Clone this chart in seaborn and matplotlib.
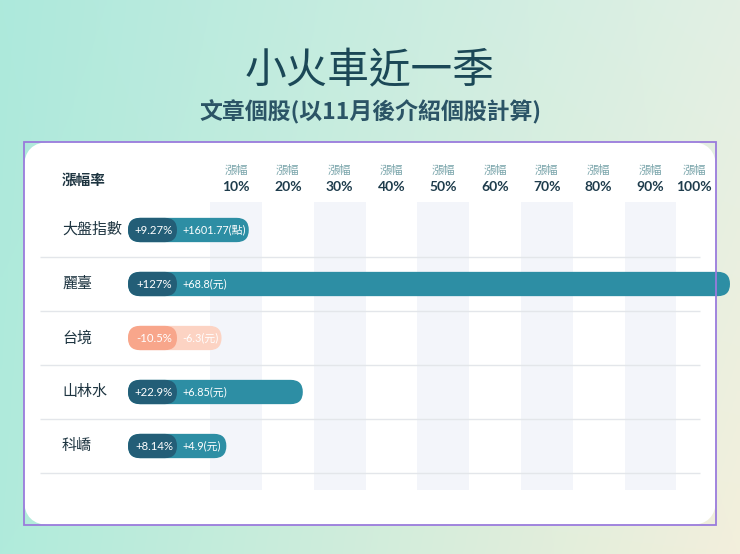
import numpy as np
import matplotlib
matplotlib.use("Agg")
import matplotlib.pyplot as plt
import seaborn as sns
from matplotlib.patches import FancyBboxPatch, Rectangle
from matplotlib.colors import to_rgb

# ---------------- data ----------------
title = "小火車近一季"
subtitle = "文章個股(以11月後介紹個股計算)"
corner_label = "漲幅率"
header_word = "漲幅"
names = ["大盤指數", "麗臺", "台境", "山林水", "科嶠"]
pct_change = [9.27, 127, -10.5, 22.9, 8.14]
pct_labels = ["+9.27%", "+127%", "-10.5%", "+22.9%", "+8.14%"]
value_labels = ["+1601.77(點)", "+68.8(元)", "-6.3(元)", "+6.85(元)", "+4.9(元)"]
tick_values = [10, 20, 30, 40, 50, 60, 70, 80, 90, 100]
tick_labels = ["10%", "20%", "30%", "40%", "50%", "60%", "70%", "80%", "90%", "100%"]

# ---------------- style ----------------
sns.set_theme(style="white")
CJK = ["Noto Sans CJK TC", "DejaVu Sans"]
NUM = ["Lato", "Noto Sans CJK TC", "DejaVu Sans"]
plt.rcParams["font.family"] = CJK

W, H = 740, 554
fig = plt.figure(figsize=(W / 100, H / 100), dpi=100)

# background gradient
bg = fig.add_axes([0, 0, 1, 1])
bg.set_xlim(0, W)
bg.set_ylim(H, 0)
bg.axis("off")
tl, tr = np.array(to_rgb("#ade9dc")), np.array(to_rgb("#e2f0e4"))
bl, br = np.array(to_rgb("#b0ebdb")), np.array(to_rgb("#f3efdc"))
yy, xx = np.mgrid[0:1:200j, 0:1:200j]
xx, yy = xx[..., None], yy[..., None]
img = (1 - yy) * ((1 - xx) * tl + xx * tr) + yy * ((1 - xx) * bl + xx * br)
bg.imshow(img, extent=(0, W, H, 0), aspect="auto", zorder=0)

# card
CL, CT, CR, CB = 24, 142, 716, 525
bg.add_patch(FancyBboxPatch((CL, CT), CR - CL, CB - CT,
                            boxstyle="round,pad=0,rounding_size=26",
                            fc="white", ec="none", zorder=1))
fig.add_artist(Rectangle((CL / W, 1 - CB / H), (CR - CL) / W, (CB - CT) / H,
                         transform=fig.transFigure, fill=False,
                         ec="#9a7bdc", lw=1.3, zorder=10))

fig.text(0.5, 1 - 72 / H, title, ha="center", va="center",
         fontsize=30, color="#1b4857")
fig.text(0.5, 1 - 112 / H, subtitle, ha="center", va="center",
         fontsize=16.5, fontweight="bold", color="#2b5466")

# ---------------- main axes ----------------
X0, KX = 184.2, 5.18   # pixel of 0% and pixels per 1%
Y0, KY = 230.0, 54.0   # pixel of first row and pixels per row


def dx(p):
    return (p - X0) / KX


def dy(p):
    return (p - Y0) / KY


ax = fig.add_axes([CL / W, 1 - CB / H, (CR - CL) / W, (CB - CT) / H])
ax.patch.set_alpha(0)


def set_limits():
    ax.set_xlim(dx(CL), dx(CR))
    ax.set_ylim(dy(CB), dy(CT))
    ax.axis("off")


set_limits()

# stripes
for v in tick_values[::2]:
    ax.add_patch(Rectangle((v - 5, dy(202)), 10, dy(490) - dy(202),
                           fc="#f3f5fa", ec="none", zorder=0))
# separators
ax.hlines([i + 0.5 for i in range(len(names))], dx(40), dx(700),
          color="#e3e6ea", lw=1, zorder=1)

# header
ax.text(dx(62), dy(180), corner_label, ha="left", va="center",
        fontsize=10.5, fontweight="bold", color="#1d3440")
for v, lab in zip(tick_values, tick_labels):
    xv = min(v, dx(694))
    ax.text(xv, dy(170), header_word, ha="center", va="center",
            fontsize=8.5, color="#7aa5ab")
    ax.text(xv, dy(187), lab, ha="center", va="center", fontsize=10,
            fontweight="bold", color="#1e3c4c", family=NUM)

# row labels
for i, n in enumerate(names):
    ax.text(dx(62), i, n, ha="left", va="center", fontsize=10.8, color="#1d3440")

# bar texts
start = dx(128)
chip_w = 49 / KX
renderer = fig.canvas.get_renderer()
ends = []
for i, (v, pl, vl) in enumerate(zip(pct_change, pct_labels, value_labels)):
    ax.text(start + chip_w / 2 + 0.3, i, pl, ha="center", va="center",
            fontsize=8.2, color="white", family=NUM, zorder=6)
    t = ax.text(start + chip_w + 1.0, i, vl, ha="left", va="center",
                fontsize=7.8, color="white", family=NUM, zorder=6)
    bb = t.get_window_extent(renderer)
    text_end = ax.transData.inverted().transform((bb.x1, 0))[0]
    ends.append(min(max(max(v, 0), text_end + 0.6), dx(730)))

pos = [v >= 0 for v in pct_change]
bar_colors = ["#2d8ea4" if p else "#fcd3c3" for p in pos]
chip_colors = ["#235e77" if p else "#f8a68b" for p in pos]

sns.barplot(x=ends, y=names, hue=names, palette=bar_colors, orient="h",
            width=0.45, legend=False, ax=ax)
set_limits()

bars = [p for p in ax.patches if isinstance(p, Rectangle)
        and not isinstance(p, FancyBboxPatch) and p.get_facecolor()[:3] != to_rgb("#f3f5fa")]
bars = sorted(bars, key=lambda p: p.get_y())
aspect = KX / KY
for i, p in enumerate(bars):
    y0, h = p.get_y(), p.get_height()
    x1 = p.get_x() + p.get_width()
    p.remove()
    r = (h * KY / 2) / KX
    ax.add_patch(FancyBboxPatch((start, y0), x1 - start, h,
                                boxstyle=f"round,pad=0,rounding_size={r}",
                                mutation_aspect=aspect, fc=bar_colors[i],
                                ec="none", zorder=3, clip_on=False))
    ax.add_patch(FancyBboxPatch((start, y0), chip_w, h,
                                boxstyle=f"round,pad=0,rounding_size={r}",
                                mutation_aspect=aspect, fc=chip_colors[i],
                                ec="none", zorder=4, clip_on=False))

fig.savefig("out.png", dpi=100)
